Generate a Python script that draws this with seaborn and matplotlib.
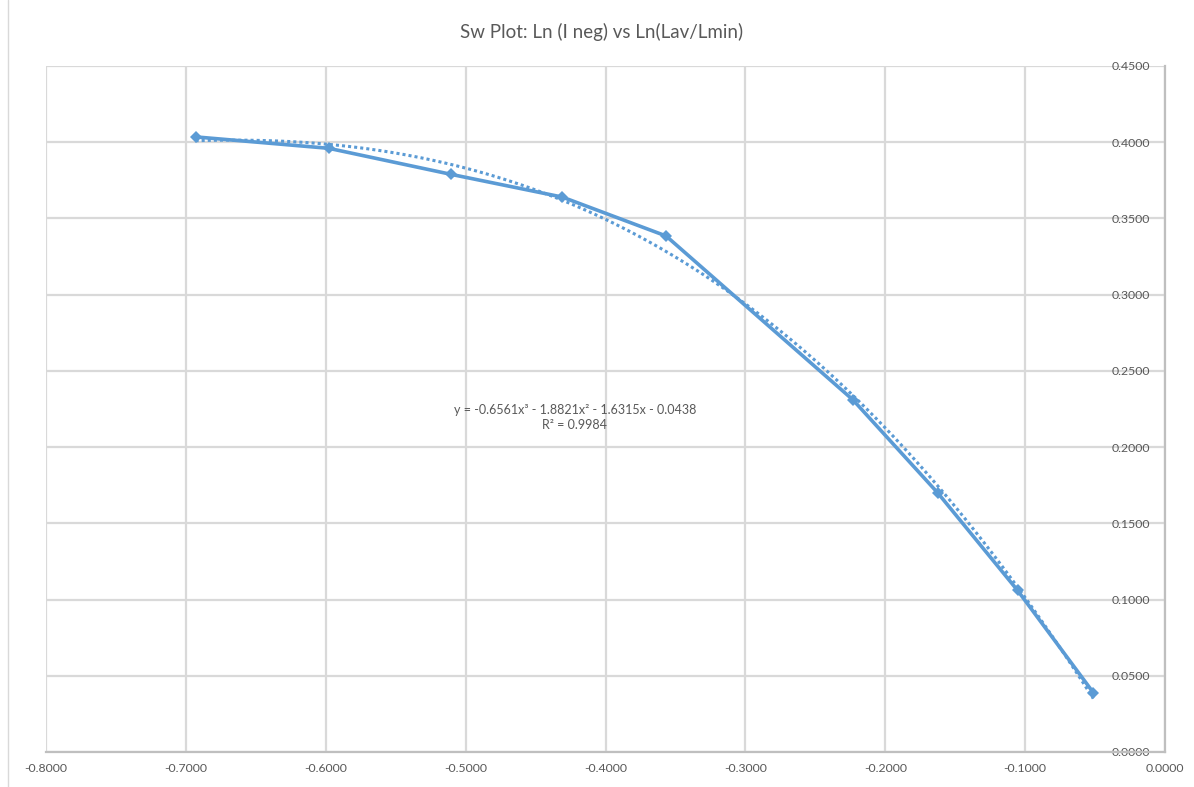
import matplotlib
matplotlib.use("Agg")
import matplotlib.pyplot as plt
import seaborn as sns
import numpy as np
import pandas as pd
from matplotlib.lines import Line2D

# data
ln_lav_lmin = [-0.6931, -0.5978, -0.5108, -0.4308, -0.3567, -0.2231, -0.1625, -0.1054, -0.0513]
ln_ineg = [0.4035, 0.3960, 0.3790, 0.3640, 0.3385, 0.2310, 0.1700, 0.1060, 0.0390]

title = "Sw Plot: Ln (I neg) vs Ln(Lav/Lmin)"
eq_text = "y = -0.6561x\u00b3 - 1.8821x\u00b2 - 1.6315x - 0.0438\nR\u00b2 = 0.9984"
x_ticks = [-0.8, -0.7, -0.6, -0.5, -0.4, -0.3, -0.2, -0.1, 0.0]
y_ticks = [0.0, 0.05, 0.10, 0.15, 0.20, 0.25, 0.30, 0.35, 0.40, 0.45]

df = pd.DataFrame({"x": ln_lav_lmin, "y": ln_ineg})

sns.set_theme(style="white")
plt.rcParams["font.family"] = ["Lato", "DejaVu Sans"]

blue = "#5B9BD5"
grid_c = "#D9D9D9"
text_c = "#595959"

fig = plt.figure(figsize=(11.94, 7.87), dpi=100)
ax = fig.add_axes([46 / 1194, 1 - 752 / 787, (1165 - 46) / 1194, (752 - 66) / 787])

# trendline (polynomial order 3)
sns.regplot(data=df, x="x", y="y", order=3, ci=None, scatter=False, truncate=True, ax=ax,
            line_kws=dict(color=blue, linestyle=(0, (1, 1)), linewidth=2.2))
# data series
sns.lineplot(data=df, x="x", y="y", sort=False, ax=ax, color=blue, linewidth=2.6,
             marker="D", markersize=6, markeredgewidth=0, markerfacecolor=blue)

ax.set_xlim(-0.8, 0.0)
ax.set_ylim(0.0, 0.45)
ax.set_xticks(x_ticks)
ax.set_yticks(y_ticks)
ax.set_xticklabels([f"{v:.4f}" for v in x_ticks])
ax.set_yticklabels([f"{v:.4f}" for v in y_ticks])
ax.grid(True, color=grid_c, linewidth=1.6)
ax.set_axisbelow(True)
ax.set_xlabel("")
ax.set_ylabel("")

for s in ["top", "left"]:
    ax.spines[s].set_visible(False)
for s in ["bottom", "right"]:
    ax.spines[s].set_visible(True)
    ax.spines[s].set_color("#BFBFBF")
    ax.spines[s].set_linewidth(1.6)

ax.yaxis.set_ticks_position("right")
ax.tick_params(axis="y", length=0, pad=-11, labelsize=8.8, labelcolor=text_c)
for lab in ax.get_yticklabels():
    lab.set_horizontalalignment("right")
ax.tick_params(axis="x", length=0, pad=8, labelsize=8.8, labelcolor=text_c)

ax.text(-0.422, 0.2195, eq_text, ha="center", va="center", fontsize=9, color=text_c,
        linespacing=1.35)

fig.text(602 / 1194, 1 - 32 / 787, title, ha="center", va="center", fontsize=13.5, color=text_c)

fig.add_artist(Line2D([8 / 1194, 8 / 1194], [0, 1], transform=fig.transFigure, color="#D9D9D9", linewidth=1))

fig.savefig("out.png", dpi=100)
